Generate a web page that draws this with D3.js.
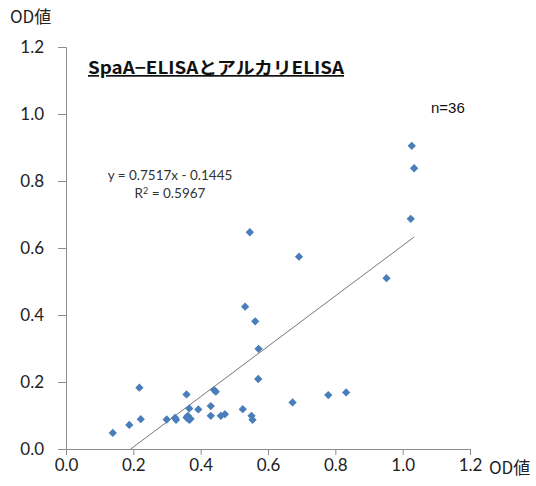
<!DOCTYPE html>
<html>
<head>
<meta charset="utf-8">
<script src="https://cdn.jsdelivr.net/npm/d3@7/dist/d3.min.js"></script>
<style>
  body { margin: 0; background: #fff; }
  svg { display: block; }
</style>
</head>
<body>
<section id="grafico"></section>
<script>
// x = SpaA-ELISA OD, y = アルカリELISA OD
const xValues = [0.139, 0.188, 0.218, 0.222, 0.299, 0.324, 0.327, 0.358, 0.366, 0.358,
                 0.366, 0.362, 0.370, 0.393, 0.430, 0.430, 0.440, 0.445, 0.460, 0.472,
                 0.525, 0.551, 0.554, 0.532, 0.562, 0.572, 0.571, 0.673, 0.779, 0.832,
                 0.952, 1.024, 0.546, 0.692, 1.027, 1.034];
const yValues = [0.048, 0.072, 0.183, 0.089, 0.088, 0.093, 0.087, 0.163, 0.121, 0.094,
                 0.087, 0.099, 0.090, 0.118, 0.128, 0.099, 0.176, 0.171, 0.099, 0.104,
                 0.119, 0.099, 0.087, 0.425, 0.381, 0.299, 0.209, 0.139, 0.161, 0.169,
                 0.510, 0.687, 0.647, 0.574, 0.905, 0.838];
const tickValues = [0, 0.2, 0.4, 0.6, 0.8, 1.0, 1.2];
const slope = 0.7517;
const intercept = -0.1445;

const width = 536;
const height = 486;

const svg = d3.select("section#grafico")
    .append("svg")
    .attr("width", width)
    .attr("height", height);

const xScale = d3.scaleLinear().domain([0, 1.2]).range([66, 470]);
const yScale = d3.scaleLinear().domain([0, 1.2]).range([449, 47]);

const fmt = d3.format(".1f");
const tickFont = "Lato, 'Open Sans', sans-serif";

// axes
const xAxis = d3.axisBottom(xScale).tickValues(tickValues).tickFormat(fmt).tickSizeOuter(0).tickSize(6).tickPadding(4);
const yAxis = d3.axisLeft(yScale).tickValues(tickValues).tickFormat(fmt).tickSizeOuter(0).tickSize(8).tickPadding(14);

const gx = svg.append("g")
    .attr("transform", `translate(0,${yScale(0)})`)
    .call(xAxis);
const gy = svg.append("g")
    .attr("transform", `translate(${xScale(0)},0)`)
    .call(yAxis);

[gx, gy].forEach(g => {
    g.selectAll("path, line").attr("stroke", "#8c8c8c").attr("stroke-width", 1);
    g.selectAll("text")
        .attr("fill", "#222")
        .style("font-family", tickFont)
        .style("font-size", "17px");
});

// axis titles
svg.append("text")
    .attr("x", 10).attr("y", 23)
    .style("font-family", "'Noto Sans CJK JP', sans-serif")
    .style("font-size", "17px")
    .attr("fill", "#222")
    .text("OD値");

svg.append("text")
    .attr("x", 489).attr("y", 474)
    .style("font-family", "'Noto Sans CJK JP', sans-serif")
    .style("font-size", "17px")
    .attr("fill", "#222")
    .text("OD値");

// title
svg.append("text")
    .attr("x", 88).attr("y", 74)
    .style("font-family", "'Noto Sans CJK JP', sans-serif")
    .style("font-size", "17px")
    .style("font-weight", "bold")
    .style("text-decoration", "underline")
    .attr("fill", "#111")
    .attr("textLength", 256)
    .attr("lengthAdjust", "spacingAndGlyphs")
    .text("SpaA−ELISAとアルカリELISA");

svg.append("text")
    .attr("x", 431).attr("y", 113)
    .style("font-family", "'Liberation Sans', Arial, sans-serif")
    .style("font-size", "15px")
    .attr("fill", "#111")
    .text("n=36");

// trend line
const x0 = -intercept / slope;
const x1 = d3.max(xValues);
svg.append("line")
    .attr("x1", xScale(x0)).attr("y1", yScale(slope * x0 + intercept))
    .attr("x2", xScale(x1)).attr("y2", yScale(slope * x1 + intercept))
    .attr("stroke", "#777")
    .attr("stroke-width", 1);

// equation
const eqFont = "Lato, 'Open Sans', sans-serif";
svg.append("text")
    .attr("x", 170).attr("y", 180)
    .attr("text-anchor", "middle")
    .style("font-family", eqFont)
    .style("font-size", "13.5px")
    .attr("fill", "#333")
    .text("y = 0.7517x - 0.1445");
const r2 = svg.append("text")
    .attr("x", 170).attr("y", 198)
    .attr("text-anchor", "middle")
    .style("font-family", eqFont)
    .style("font-size", "13.5px")
    .attr("fill", "#333");
r2.append("tspan").text("R");
r2.append("tspan").attr("dy", -4).style("font-size", "9px").text("2");
r2.append("tspan").attr("dy", 4).text(" = 0.5967");

// points
const points = xValues.map((x, i) => [x, yValues[i]]);
svg.selectAll("path.pt")
    .data(points)
    .enter()
    .append("path")
    .attr("class", "pt")
    .attr("d", d3.symbol(d3.symbolDiamond2, 44)())
    .attr("transform", d => `translate(${xScale(d[0])},${yScale(d[1])})`)
    .attr("fill", "#4a7ebb");
</script>
</body>
</html>
